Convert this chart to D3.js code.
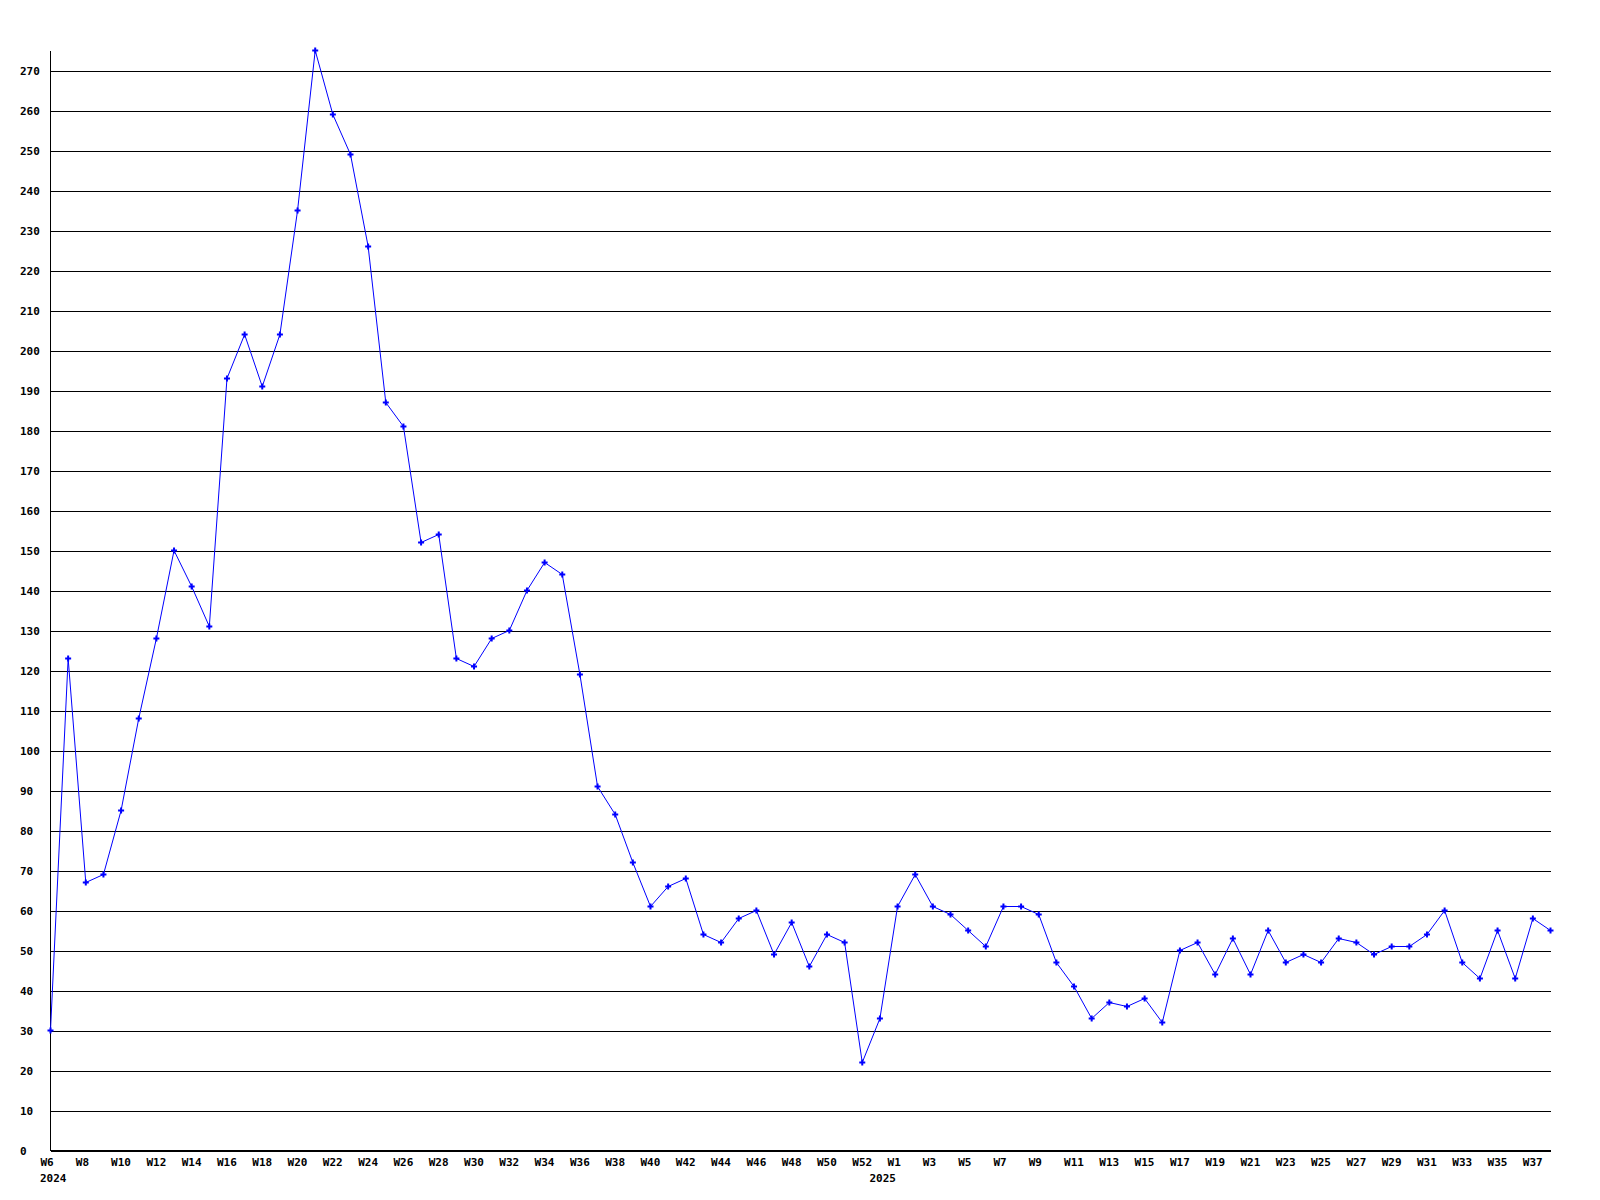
<!DOCTYPE html>
<html>
<head>
<meta charset="utf-8">
<script src="https://cdn.jsdelivr.net/npm/d3@7"></script>
<style>
  body { margin: 0; background: #fff; }
  .axis text { font: bold 11px "DejaVu Sans Mono", monospace; fill: #000; }
</style>
</head>
<body>
<svg id="chart" width="1600" height="1200"></svg>
<script>
// weekly categories, 2024 W6 .. 2025 W38
var categories = [
  "2024-W6","2024-W7","2024-W8","2024-W9","2024-W10","2024-W11","2024-W12","2024-W13",
  "2024-W14","2024-W15","2024-W16","2024-W17","2024-W18","2024-W19","2024-W20","2024-W21",
  "2024-W22","2024-W23","2024-W24","2024-W25","2024-W26","2024-W27","2024-W28","2024-W29",
  "2024-W30","2024-W31","2024-W32","2024-W33","2024-W34","2024-W35","2024-W36","2024-W37",
  "2024-W38","2024-W39","2024-W40","2024-W41","2024-W42","2024-W43","2024-W44","2024-W45",
  "2024-W46","2024-W47","2024-W48","2024-W49","2024-W50","2024-W51","2024-W52",
  "2025-W0","2025-W1","2025-W2","2025-W3","2025-W4","2025-W5","2025-W6","2025-W7",
  "2025-W8","2025-W9","2025-W10","2025-W11","2025-W12","2025-W13","2025-W14","2025-W15",
  "2025-W16","2025-W17","2025-W18","2025-W19","2025-W20","2025-W21","2025-W22","2025-W23",
  "2025-W24","2025-W25","2025-W26","2025-W27","2025-W28","2025-W29","2025-W30","2025-W31",
  "2025-W32","2025-W33","2025-W34","2025-W35","2025-W36","2025-W37","2025-W38"
];

var counts = [
  30, 123, 67, 69, 85, 108, 128, 150,
  141, 131, 193, 204, 191, 204, 235, 275,
  259, 249, 226, 187, 181, 152, 154, 123,
  121, 128, 130, 140, 147, 144, 119, 91,
  84, 72, 61, 66, 68, 54, 52, 58,
  60, 49, 57, 46, 54, 52, 22,
  33, 61, 69, 61, 59, 55, 51, 61,
  61, 59, 47, 41, 33, 37, 36, 38,
  32, 50, 52, 44, 53, 44, 55, 47,
  49, 47, 53, 52, 49, 51, 51, 54,
  60, 47, 43, 55, 43, 58, 55
];

// first category of each year gets the year label
var yearStarts = [["2024", "2024-W6"], ["2025", "2025-W0"]];

var yTicks = [0, 10, 20, 30, 40, 50, 60, 70, 80, 90, 100, 110, 120, 130,
  140, 150, 160, 170, 180, 190, 200, 210, 220, 230, 240, 250, 260, 270];

var svg = d3.select("#chart");
var margin = { top: 50, right: 50, bottom: 50, left: 50 };
var width = svg.attr("width") - margin.left - margin.right;
var height = svg.attr("height") - margin.top - margin.bottom;

svg.append("rect").attr("width", 1600).attr("height", 1200).attr("fill", "#fff");

var x = d3.scalePoint().domain(categories).range([0, width]);
var y = d3.scaleLinear().domain([0, 275]).range([height, 0]);

var g = svg.append("g")
    .attr("transform", "translate(" + (margin.left + 0.5) + "," + (margin.top + 0.5) + ")");

// gridlines + y labels
var yAxis = g.append("g")
    .attr("class", "axis axis--y")
    .call(d3.axisLeft(y).tickValues(yTicks).tickSize(-width).tickPadding(0));
yAxis.select(".domain").remove();
yAxis.selectAll(".tick line")
    .attr("stroke", "#000")
    .attr("shape-rendering", "crispEdges");
yAxis.selectAll(".tick text")
    .attr("text-anchor", "start")
    .attr("x", -30.5)
    .attr("dy", "0.36em");

// x labels, every other week
var xAxis = g.append("g")
    .attr("class", "axis axis--x")
    .attr("transform", "translate(0," + height + ")")
    .call(d3.axisBottom(x)
        .tickValues(categories.filter(function (d, i) { return i % 2 === 0; }))
        .tickFormat(function (d) { return d.split("-")[1]; })
        .tickSize(0));
xAxis.select(".domain").remove();
xAxis.selectAll(".tick text")
    .attr("text-anchor", "start")
    .attr("x", -10.5)
    .attr("y", 15.5)
    .attr("dy", 0);

// year labels
g.append("g").attr("class", "axis")
  .selectAll("text")
  .data(yearStarts)
  .enter().append("text")
    .attr("x", function (d) { return x(d[1]) - 10.5; })
    .attr("y", height + 31.5)
    .text(function (d) { return d[0]; });

// axis lines
g.append("line")
    .attr("x1", 0).attr("x2", 0)
    .attr("y1", y(275)).attr("y2", y(0))
    .attr("stroke", "#000").attr("shape-rendering", "crispEdges");
g.append("line")
    .attr("x1", 0).attr("x2", width)
    .attr("y1", y(0)).attr("y2", y(0))
    .attr("stroke", "#000").attr("shape-rendering", "crispEdges");

// series line
var line = d3.line()
    .x(function (d, i) { return x(categories[i]); })
    .y(function (d) { return y(d); });

g.append("path")
    .datum(counts)
    .attr("fill", "none")
    .attr("stroke", "#0000ff")
    .attr("stroke-width", 1)
    .attr("d", line);

// markers
g.selectAll(".pt")
    .data(counts)
    .enter().append("path")
    .attr("class", "pt")
    .attr("transform", function (d, i) { return "translate(" + x(categories[i]) + "," + y(d) + ")"; })
    .attr("d", d3.symbol().type(d3.symbolCross).size(20))
    .attr("fill", "#0000ff");
</script>
</body>
</html>
